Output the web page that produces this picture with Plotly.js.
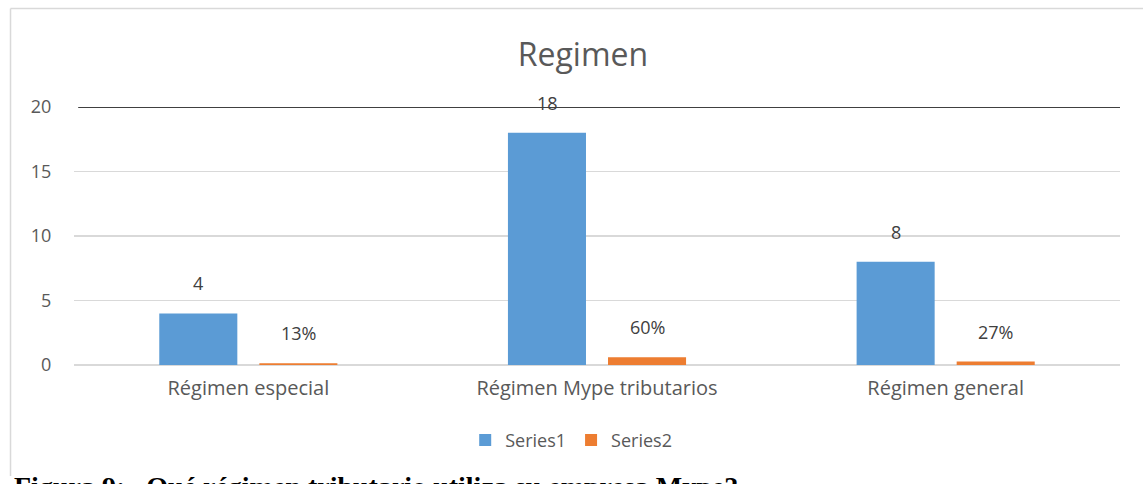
<!DOCTYPE html>
<html>
<head>
<meta charset="utf-8">
<script src="https://cdn.plot.ly/plotly-3.0.1.min.js"></script>
<style>html,body{margin:0;padding:0;background:#fff;}#chart{width:1143px;height:484px;}</style>
</head>
<body>
<div id="chart"></div>
<script>
const categories = ['Régimen especial', 'Régimen Mype tributarios', 'Régimen general'];
const series1 = [4, 18, 8];
const series2 = [0.13, 0.60, 0.27];
const seriesNames = ['Series1', 'Series2'];
const yTicks = [0, 5, 10, 15, 20];
const chartTitle = 'Regimen';
const caption = 'Figura 9:&nbsp;&nbsp; Qué régimen tributario utiliza su empresa Mype?';

const FONT = 'Open Sans, sans-serif';
const GREY = '#595959';

const traces = [
  {type: 'bar', name: seriesNames[0], x: categories, y: series1, marker: {color: '#5B9BD5'}, hoverinfo: 'none'},
  {type: 'bar', name: seriesNames[1], x: categories, y: series2, marker: {color: '#ED7D31'}, hoverinfo: 'none'}
];

const annotations = [];
categories.forEach((c, i) => {
  annotations.push({x: c, y: series1[i], xref: 'x', yref: 'y', text: String(series1[i]), showarrow: false,
    xshift: -50, yshift: 30, yanchor: 'middle', font: {family: FONT, size: 18, color: '#404040'}});
  annotations.push({x: c, y: series2[i], xref: 'x', yref: 'y', text: Math.round(series2[i] * 100) + '%', showarrow: false,
    xshift: 50, yshift: 30, yanchor: 'middle', font: {family: FONT, size: 18, color: '#404040'}});
});
annotations.push({xref: 'paper', yref: 'paper', x: -0.0593, y: -0.405, xanchor: 'left', yanchor: 'top',
  text: '<b>' + caption + '</b>', showarrow: false,
  font: {family: 'Liberation Serif, Times New Roman, serif', size: 28, color: '#000'}});

const layout = {
  width: 1143, height: 484,
  margin: {l: 74, r: 23, t: 107, b: 119, pad: 0},
  paper_bgcolor: '#fff', plot_bgcolor: '#fff',
  showlegend: true,
  title: {text: chartTitle, x: 0.51, xref: 'container', y: 1 - 55 / 484, yref: 'container', yanchor: 'middle', xanchor: 'center',
    font: {family: FONT, size: 32, color: GREY}},
  bargap: 0.426, bargroupgap: 0.22, barmode: 'group',
  xaxis: {type: 'category', showgrid: false, showline: false, zeroline: false,
    ticks: 'outside', ticklen: 5, tickcolor: 'rgba(0,0,0,0)',
    tickfont: {family: FONT, size: 20, color: GREY}},
  yaxis: {range: [0, 20], tickvals: yTicks, ticktext: yTicks.map(String), showgrid: true, gridcolor: '#d9d9d9', gridwidth: 1.5,
    zeroline: true, zerolinecolor: '#d9d9d9', zerolinewidth: 1.5, showline: false,
    ticks: 'outside', ticklen: 18, tickcolor: 'rgba(0,0,0,0)',
    tickfont: {family: FONT, size: 18, color: GREY}},
  legend: {orientation: 'h', x: 0.374, xanchor: 'left', y: -0.22, yanchor: 'top',
    font: {family: FONT, size: 18, color: GREY}, bgcolor: 'rgba(0,0,0,0)', traceorder: 'normal'},
  shapes: [
    {type: 'line', xref: 'paper', yref: 'y', x0: 0.004, x1: 1, y0: 20, y1: 20, line: {color: '#404040', width: 2}},
    {type: 'line', xref: 'paper', yref: 'paper', x0: -0.0607, x1: 1.05, y0: 1.3818, y1: 1.3818, line: {color: '#d9d9d9', width: 1.5}},
    {type: 'line', xref: 'paper', yref: 'paper', x0: -0.0607, x1: -0.0607, y0: 1.3818, y1: -0.43, line: {color: '#d9d9d9', width: 1.5}}
  ],
  annotations: annotations
};

Plotly.newPlot('chart', traces, layout, {staticPlot: true, displayModeBar: false});
</script>
</body>
</html>
